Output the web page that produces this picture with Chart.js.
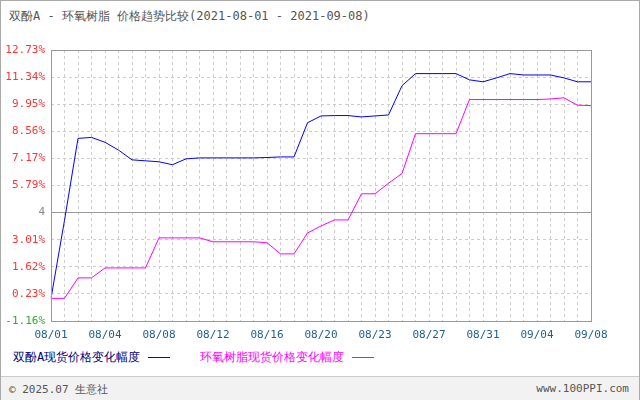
<!DOCTYPE html>
<html><head><meta charset="utf-8">
<script src="https://cdn.jsdelivr.net/npm/chart.js@4"></script>
<style>
body{margin:0;width:640px;height:400px;overflow:hidden;background:#fff;font-family:"DejaVu Sans Mono",monospace;}
#wrap{position:absolute;left:0;top:0;width:638px;height:398px;border:1px solid #aaa;}
#title{position:absolute;left:8px;top:7px;font-size:12px;color:#555;}
#cv{position:absolute;left:0;top:0;}
#legend{position:absolute;left:12px;top:348px;font-size:12px;white-space:nowrap;}
.ln{display:inline-block;width:22px;height:0;border-top:1px solid;vertical-align:middle;margin:0 30px 0 8px;}
#foot{position:absolute;left:0;top:375px;width:638px;height:23px;background:#f2f2f2;border-top:1px solid #ccc;font-size:11px;color:#555;}
</style></head><body>
<div id="wrap">
<div id="title">双酚A - 环氧树脂 价格趋势比较(2021-08-01 - 2021-09-08)</div>
<canvas id="cv" width="640" height="345"></canvas>
<div id="legend"><span style="color:#000080">双酚A现货价格变化幅度</span><span class="ln" style="border-color:#0000ff"></span><span style="color:#ff00ff">环氧树脂现货价格变化幅度</span><span class="ln" style="border-color:#ff00ff"></span></div>
<div id="foot"><span style="position:absolute;left:8px;top:5px">© 2025.07 生意社</span><span style="position:absolute;right:10px;top:5px">www.100PPI.com</span></div>
</div>
<script>
const dates=["08/01","08/02","08/03","08/04","08/05","08/05","08/06","08/07","08/08","08/09","08/09","08/10","08/12","08/12","08/13","08/14","08/16","08/16","08/17","08/18","08/20","08/20","08/21","08/22","08/23","08/24","08/25","08/26","08/27","08/28","08/29","08/30","08/31","09/01","09/02","09/03","09/04","09/05","09/06","09/07","09/08"];
const tickDates=["08/01","08/04","08/08","08/12","08/16","08/20","08/23","08/27","08/31","09/04","09/08"];
const bpa=[0,4.0,8.2,8.25,8.0,7.6,7.1,7.05,7.0,6.85,7.15,7.2,7.2,7.2,7.2,7.2,7.22,7.25,7.25,9.0,9.35,9.37,9.37,9.3,9.35,9.4,10.9,11.52,11.52,11.52,11.52,11.2,11.1,11.3,11.52,11.45,11.45,11.45,11.3,11.1,11.1];
const epoxy=[0,0,1.05,1.05,1.56,1.56,1.56,1.56,3.1,3.1,3.1,3.1,2.9,2.9,2.9,2.9,2.85,2.28,2.28,3.35,3.71,4.02,4.02,5.36,5.36,5.9,6.4,8.44,8.44,8.44,8.44,10.19,10.19,10.19,10.19,10.19,10.19,10.22,10.28,9.9,9.88];
const yTicks=[-1.16,0.23,1.62,3.01,4.4,5.79,7.17,8.56,9.95,11.34,12.73];
const yLabels=["-1.16%","0.23%","1.62%","3.01%","4","5.79%","7.17%","8.56%","9.95%","11.34%","12.73%"];
const frame={id:'frame',afterDraw(c){const a=c.chartArea,x=c.ctx;x.save();x.strokeStyle='#999';x.lineWidth=1;x.strokeRect(a.left+0.5,a.top+0.5,a.width,a.height);x.restore();}};
new Chart(document.getElementById('cv'),{type:'line',
data:{labels:dates,datasets:[
{data:bpa,borderColor:'#0000ff',borderWidth:1,pointRadius:0,tension:0},
{data:epoxy,borderColor:'#ff00ff',borderWidth:1,pointRadius:0,tension:0}]},
options:{responsive:false,animation:false,layout:{padding:{top:49,right:50,left:0,bottom:0}},
plugins:{legend:{display:false},tooltip:{enabled:false}},
scales:{
x:{grid:{color:'#ccc',drawTicks:false},border:{display:false,dash:[3,3]},
 afterFit(s){s.height=25;},
 ticks:{autoSkip:false,maxRotation:0,padding:8,color:'#1f5f8b',font:{family:'DejaVu Sans Mono',size:11},
 callback:(v,i)=>i%4===0?tickDates[i/4]:''}},
y:{min:-1.16,max:12.73,afterFit(s){s.width=50;},
 afterBuildTicks(s){s.ticks=yTicks.map(v=>({value:v}));},
 grid:{drawTicks:false,color:c=>Math.abs(c.tick.value-4.4)<0.01?'#999':'#ccc'},
 border:{display:false,dash:c=>Math.abs(c.tick.value-4.4)<0.01?[]:[3,3]},
 ticks:{padding:6,font:{family:'DejaVu Sans Mono',size:11},
 color:c=>c.index===0?'#33aa33':(c.index===4?'#888':'#ff3333'),
 callback:(v,i)=>yLabels[i]}}}},
plugins:[frame]});
</script></body></html>
